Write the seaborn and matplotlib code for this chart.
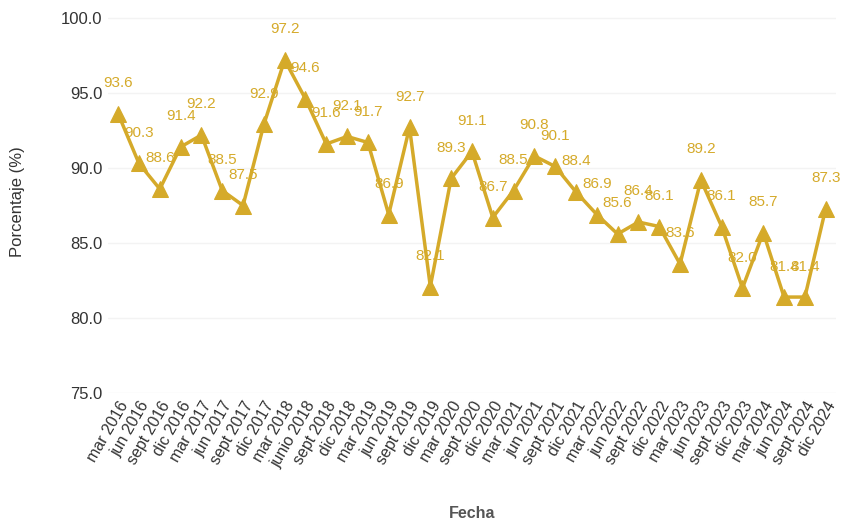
import pandas as pd
import matplotlib
matplotlib.use("Agg")
import matplotlib.pyplot as plt
import seaborn as sns

fechas = ["mar 2016", "jun 2016", "sept 2016", "dic 2016",
          "mar 2017", "jun 2017", "sept 2017", "dic 2017",
          "mar 2018", "junio 2018", "sept 2018", "dic 2018",
          "mar 2019", "jun 2019", "sept 2019", "dic 2019",
          "mar 2020", "sept 2020", "dic 2020",
          "mar 2021", "jun 2021", "sept 2021", "dic 2021",
          "mar 2022", "jun 2022", "sept 2022", "dic 2022",
          "mar 2023", "jun 2023", "sept 2023", "dic 2023",
          "mar 2024", "jun 2024", "sept 2024", "dic 2024"]
porcentaje = [93.6, 90.3, 88.6, 91.4,
              92.2, 88.5, 87.5, 92.9,
              97.2, 94.6, 91.6, 92.1,
              91.7, 86.9, 92.7, 82.1,
              89.3, 91.1, 86.7,
              88.5, 90.8, 90.1, 88.4,
              86.9, 85.6, 86.4, 86.1,
              83.6, 89.2, 86.1, 82.0,
              85.7, 81.4, 81.4, 87.3]

df = pd.DataFrame({"pos": range(len(fechas)), "Fecha": fechas, "Porcentaje": porcentaje})

sns.set_style("white")
plt.rcParams['font.family'] = ['Liberation Sans', 'DejaVu Sans']

color = "#D5AA2A"
fig = plt.figure(figsize=(8.42, 5.2), dpi=100)
ax = fig.add_axes([0.128, 0.244, 0.865, 0.736])

sns.lineplot(data=df, x="pos", y="Porcentaje", ax=ax, color=color, linewidth=2.5,
             marker="^", markersize=11, markeredgecolor=color)

for x, y in zip(df["pos"], df["Porcentaje"]):
    ax.annotate(f"{y:.1f}", (x, y), xytext=(0, 22), textcoords="offset points",
                ha="center", va="center", color=color, fontsize=11, clip_on=False)

ax.set_xlim(-0.5, len(fechas) - 0.5)
ax.set_ylim(75, 100.5)
ax.set_yticks([75, 80, 85, 90, 95, 100])
ax.set_yticklabels([f"{v:.1f}" for v in [75, 80, 85, 90, 95, 100]], fontsize=12, color="#333333")
ax.set_xticks(df["pos"])
ax.set_xticklabels(fechas, rotation=60, ha="right", rotation_mode="anchor",
                   fontsize=11.5, color="#333333")
ax.tick_params(axis="both", length=0, pad=4)
ax.yaxis.grid(True, color="#f3f3f3", linewidth=1)
for s in ax.spines.values():
    s.set_visible(False)

ax.set_xlabel("Fecha", fontsize=11.5, color="#555555", fontweight="bold", labelpad=26)
ax.set_ylabel("Porcentaje (%)", fontsize=12, color="#333333", labelpad=26)

fig.savefig("out.png", dpi=100)
